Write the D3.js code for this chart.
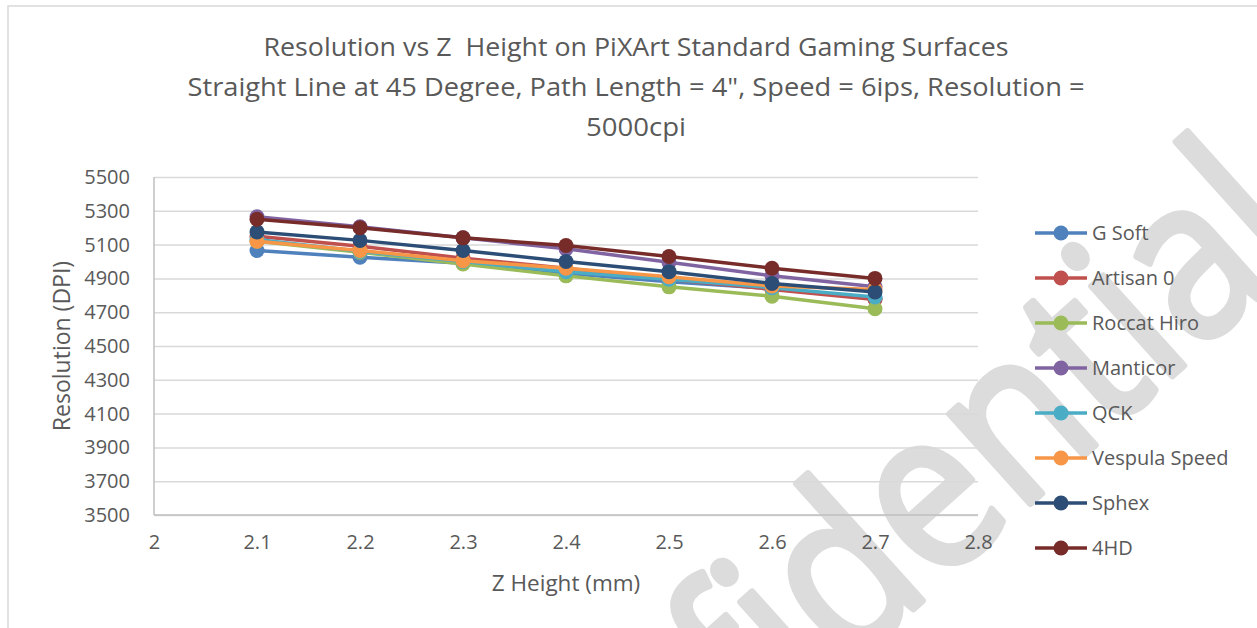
<!DOCTYPE html>
<html>
<head>
<meta charset="utf-8">
<script src="https://cdn.jsdelivr.net/npm/d3@7"></script>
<style>
  body { margin: 0; background: #fff; }
  svg { display: block; font-family: "Open Sans", "Noto Sans", sans-serif; }
</style>
</head>
<body>
<script>
var width = 1257,
    height = 628;

// data
var zHeights = [2.1, 2.2, 2.3, 2.4, 2.5, 2.6, 2.7];
var xTicks = [2, 2.1, 2.2, 2.3, 2.4, 2.5, 2.6, 2.7, 2.8];
var yTicks = [3500, 3700, 3900, 4100, 4300, 4500, 4700, 4900, 5100, 5300, 5500];
var seriesNames = ["G Soft", "Artisan 0", "Roccat Hiro", "Manticor", "QCK", "Vespula Speed", "Sphex", "4HD"];
var seriesColors = ["#4F81BD", "#C0504D", "#9BBB59", "#8064A2", "#4BACC6", "#F79646", "#2C4D75", "#772C2A"];

var gSoft        = [5065, 5025, 4990, 4930, 4880, 4840, 4780];
var artisan0     = [5150, 5090, 5020, 4960, 4895, 4835, 4775];
var roccatHiro   = [5120, 5055, 4985, 4915, 4850, 4795, 4720];
var manticor     = [5265, 5205, 5140, 5075, 4995, 4915, 4850];
var qck          = [5130, 5060, 5000, 4940, 4895, 4845, 4790];
var vespulaSpeed = [5120, 5065, 5005, 4960, 4910, 4855, 4835];
var sphex        = [5175, 5125, 5065, 5000, 4940, 4870, 4820];
var hd4          = [5250, 5200, 5140, 5095, 5030, 4960, 4900];

var seriesValues = [gSoft, artisan0, roccatHiro, manticor, qck, vespulaSpeed, sphex, hd4];

var series = seriesNames.map(function(name, i) {
  return {
    name: name,
    color: seriesColors[i],
    points: zHeights.map(function(z, j) { return { x: z, y: seriesValues[i][j] }; })
  };
});

var textColor = "#595959";

var svg = d3.select("body").append("svg")
    .attr("width", width)
    .attr("height", height);

// watermark behind the chart
svg.append("text")
    .attr("transform", "translate(902,619) rotate(-42)")
    .attr("text-anchor", "middle")
    .attr("textLength", 1111)
    .attr("lengthAdjust", "spacingAndGlyphs")
    .style("font-size", "225px")
    .style("fill", "#dcdcdc")
    .style("stroke", "#dcdcdc")
    .style("stroke-width", 7)
    .style("stroke-linejoin", "round")
    .text("Confidential");

// outer chart border
svg.append("rect")
    .attr("x", 8)
    .attr("y", 6)
    .attr("width", width + 10)
    .attr("height", height + 10)
    .style("fill", "none")
    .style("stroke", "#d9d9d9")
    .style("stroke-width", 1.5);

var x = d3.scaleLinear().domain([2, 2.8]).range([154, 978]);
var y = d3.scaleLinear().domain([3500, 5500]).range([515, 177]);

// title
var titleLines = [
  { text: "Resolution vs Z  Height on PiXArt Standard Gaming Surfaces", y: 56, len: 745 },
  { text: "Straight Line at 45 Degree, Path Length = 4\", Speed = 6ips, Resolution =", y: 96, len: 897 },
  { text: "5000cpi", y: 136, len: 100 }
];
svg.selectAll(".title")
    .data(titleLines)
  .enter().append("text")
    .attr("class", "title")
    .attr("x", 636)
    .attr("y", function(d) { return d.y; })
    .attr("text-anchor", "middle")
    .attr("textLength", function(d) { return d.len; })
    .attr("lengthAdjust", "spacingAndGlyphs")
    .style("white-space", "pre")
    .style("font-size", "26px")
    .style("fill", textColor)
    .text(function(d) { return d.text; });

// gridlines
svg.append("g")
    .attr("transform", "translate(154,0)")
    .call(d3.axisLeft(y).tickValues(yTicks).tickSize(-(978 - 154)).tickFormat(""))
    .call(function(g) {
      g.select(".domain").remove();
      g.selectAll("line").style("stroke", "#d9d9d9").style("stroke-width", 1.5);
    });

// axis lines
svg.append("line")
    .attr("x1", x(2)).attr("x2", x(2))
    .attr("y1", y(5500)).attr("y2", y(3500))
    .style("stroke", "#bfbfbf").style("stroke-width", 1.5);
svg.append("line")
    .attr("x1", x(2)).attr("x2", x(2.8))
    .attr("y1", y(3500)).attr("y2", y(3500))
    .style("stroke", "#bfbfbf").style("stroke-width", 1.5);

// y tick labels
svg.append("g")
    .attr("transform", "translate(154,0)")
    .call(d3.axisLeft(y).tickValues(yTicks).tickSize(0).tickPadding(24).tickFormat(d3.format("d")))
    .call(function(g) {
      g.select(".domain").remove();
      g.selectAll("text")
          .style("font-family", "\"Open Sans\", sans-serif")
          .style("font-size", "20px")
          .style("fill", textColor);
    });

// x tick labels
svg.append("g")
    .attr("transform", "translate(0," + y(3500) + ")")
    .call(d3.axisBottom(x).tickValues(xTicks).tickSize(0).tickPadding(20).tickFormat(function(d) { return d; }))
    .call(function(g) {
      g.select(".domain").remove();
      g.selectAll("text")
          .style("font-family", "\"Open Sans\", sans-serif")
          .style("font-size", "20px")
          .style("fill", textColor);
    });

// axis titles
svg.append("text")
    .attr("transform", "translate(62," + y(4500) + ") rotate(-90)")
    .attr("dy", "0.35em")
    .attr("text-anchor", "middle")
    .style("font-size", "23px")
    .style("fill", textColor)
    .text("Resolution (DPI)");

svg.append("text")
    .attr("x", 566)
    .attr("y", 591)
    .attr("text-anchor", "middle")
    .style("font-size", "22.5px")
    .style("fill", textColor)
    .text("Z Height (mm)");

// series: line then markers, in order
var line = d3.line()
    .x(function(d) { return x(d.x); })
    .y(function(d) { return y(d.y); });

var groups = svg.selectAll(".series")
    .data(series)
  .enter().append("g")
    .attr("class", "series");

groups.append("path")
    .attr("d", function(d) { return line(d.points); })
    .style("fill", "none")
    .style("stroke", function(d) { return d.color; })
    .style("stroke-width", 3.5);

groups.selectAll("circle")
    .data(function(d) { return d.points.map(function(p) { return { p: p, color: d.color }; }); })
  .enter().append("circle")
    .attr("cx", function(d) { return x(d.p.x); })
    .attr("cy", function(d) { return y(d.p.y); })
    .attr("r", 7.5)
    .style("fill", function(d) { return d.color; });

// legend
var legend = svg.selectAll(".legend")
    .data(series)
  .enter().append("g")
    .attr("class", "legend")
    .attr("transform", function(d, i) { return "translate(1035," + (233 + i * 45) + ")"; });

legend.append("line")
    .attr("x1", 0).attr("x2", 52)
    .style("stroke", function(d) { return d.color; })
    .style("stroke-width", 3.5);

legend.append("circle")
    .attr("cx", 26)
    .attr("r", 7.5)
    .style("fill", function(d) { return d.color; });

legend.append("text")
    .attr("x", 57)
    .attr("dy", "0.35em")
    .style("font-size", "20px")
    .style("fill", textColor)
    .text(function(d) { return d.name; });
</script>
</body>
</html>
